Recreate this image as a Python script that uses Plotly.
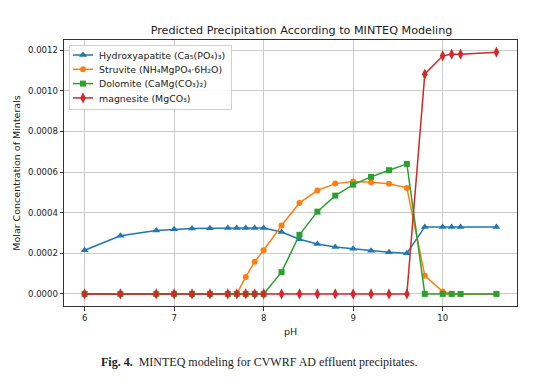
import plotly.graph_objects as go

ph = [6.0, 6.4, 6.8, 7.0, 7.2, 7.4, 7.6, 7.7, 7.8, 7.9, 8.0, 8.2, 8.4, 8.6, 8.8,
      9.0, 9.2, 9.4, 9.6, 9.8, 10.0, 10.1, 10.2, 10.6]

hydroxyapatite = [0.000215, 0.000286, 0.000312, 0.000318, 0.000322, 0.000323, 0.000325,
                  0.000325, 0.000325, 0.000325, 0.000325, 0.000305, 0.000269, 0.000246,
                  0.000231, 0.000222, 0.000213, 0.000205, 0.000200, 0.000330, 0.000330,
                  0.000330, 0.000330, 0.000330]
struvite = [0, 0, 0, 0, 0, 0, 0, 0, 0.0000837, 0.000158, 0.000215, 0.000337, 0.000448,
            0.000509, 0.000543, 0.000553, 0.000550, 0.000542, 0.000522, 0.000090,
            0.0000115, 0, 0, 0]
dolomite = [0, 0, 0, 0, 0, 0, 0, 0, 0, 0, 0, 0.000107, 0.000291, 0.000405, 0.000484,
            0.000538, 0.000576, 0.000609, 0.000640, 0, 0, 0, 0, 0]
magnesite = [0, 0, 0, 0, 0, 0, 0, 0, 0, 0, 0, 0, 0, 0, 0, 0, 0, 0, 0, 0.001082,
             0.001172, 0.001180, 0.001180, 0.001190]

series = [
    ("Hydroxyapatite (Ca₅(PO₄)₃)", hydroxyapatite, "#1f77b4", "triangle-up", 7),
    ("Struvite (NH₄MgPO₄·6H₂O)", struvite, "#ff7f0e", "circle", 6),
    ("Dolomite (CaMg(CO₃)₂)", dolomite, "#2ca02c", "square", 6),
    ("magnesite (MgCO₃)", magnesite, "#d62728", "diamond-tall", 8),
]

fig = go.Figure()
for name, vals, color, sym, sz in series:
    fig.add_trace(go.Scatter(
        x=ph, y=vals, name=name, mode="lines+markers",
        line=dict(color=color, width=1.5),
        marker=dict(symbol=sym, size=sz, color=color),
    ))

font = "DejaVu Sans"
fig.update_layout(
    width=554, height=388,
    margin=dict(l=64, r=37, t=40, b=82),
    paper_bgcolor="white", plot_bgcolor="white",
    font=dict(family=font, size=8.5, color="#222"),
    title=dict(text="Predicted Precipitation According to MINTEQ Modeling",
               x=(139 + 442) / 2 / 554, xref="paper", xanchor="center",
               y=1 - 30 / 388, yanchor="middle",
               font=dict(size=11.2, family=font, color="#222")),
    legend=dict(x=5 / 453, y=1 - 5 / 266, xanchor="left", yanchor="top",
                bgcolor="rgba(255,255,255,0.85)", bordercolor="#d0d0d0", borderwidth=1,
                font=dict(size=9.4, family=font, color="#222"),
                itemwidth=30, tracegroupgap=0),
    showlegend=True,
)
fig.update_xaxes(
    range=[5.77, 10.83], tickvals=[6, 7, 8, 9, 10], ticktext=["6", "7", "8", "9", "10"],
    showgrid=True, gridcolor="#cccccc", gridwidth=1,
    showline=True, linecolor="#333", linewidth=1, mirror=True,
    ticks="outside", ticklen=3.5, tickcolor="#333",
    title=dict(text="pH", standoff=6, font=dict(size=9.5)), zeroline=False,
)
fig.update_yaxes(
    range=[-0.0000595, 0.00125], tickvals=[0, 0.0002, 0.0004, 0.0006, 0.0008, 0.0010, 0.0012],
    tickformat=".4f",
    showgrid=True, gridcolor="#cccccc", gridwidth=1,
    showline=True, linecolor="#333", linewidth=1, mirror=True,
    ticks="outside", ticklen=3.5, tickcolor="#333",
    title=dict(text="Molar Concentration of Minterals", standoff=5, font=dict(size=9.5)),
    zeroline=False, automargin=False,
)
fig.add_annotation(
    text="<b>Fig. 4.</b>  MINTEQ modeling for CVWRF AD effluent precipitates.",
    xref="paper", yref="paper", x=(99 - 64) / 453, y=-(362 - 306) / 266,
    xanchor="left", yanchor="middle", showarrow=False,
    font=dict(family="Liberation Serif", size=12, color="#222"),
)

post = r"""
document.body.style.margin = '0';
document.body.style.padding = '0';
try {
  var gd = document.getElementById('{plot_id}');
  var traces = gd.querySelectorAll('.legend .traces');
  var step = 14.3;
  var pos = [];
  traces.forEach(function (t) {
    var m = /translate\(\s*([-\d.e]+)[ ,]+([-\d.e]+)\s*\)/.exec(t.getAttribute('transform'));
    pos.push([parseFloat(m[1]), parseFloat(m[2])]);
  });
  var oldStep = pos.length > 1 ? pos[1][1] - pos[0][1] : step;
  var y0 = pos[0][1] - 5.5;
  traces.forEach(function (t, i) {
    t.setAttribute('transform', 'translate(' + pos[i][0] + ',' + (y0 + i * step) + ')');
    var txt = t.querySelector('text.legendtext');
    if (txt) { txt.setAttribute('x', 29); }
    t.querySelectorAll('.legendlines path').forEach(function (p) { p.setAttribute('d', 'M3,0h20'); });
    t.querySelectorAll('.legendsymbols path.scatterpts').forEach(function (p) {
      p.setAttribute('transform', 'translate(13,0)');
    });
  });
  var bg = gd.querySelector('.legend rect.bg');
  var h = parseFloat(bg.getAttribute('height'));
  var w = parseFloat(bg.getAttribute('width'));
  bg.setAttribute('height', h - (pos.length - 1) * (oldStep - step) - 9);
  bg.setAttribute('width', w - 11);
} catch (e) {}
"""
fig.write_html("out.html", post_script=post, config={"displayModeBar": False})
